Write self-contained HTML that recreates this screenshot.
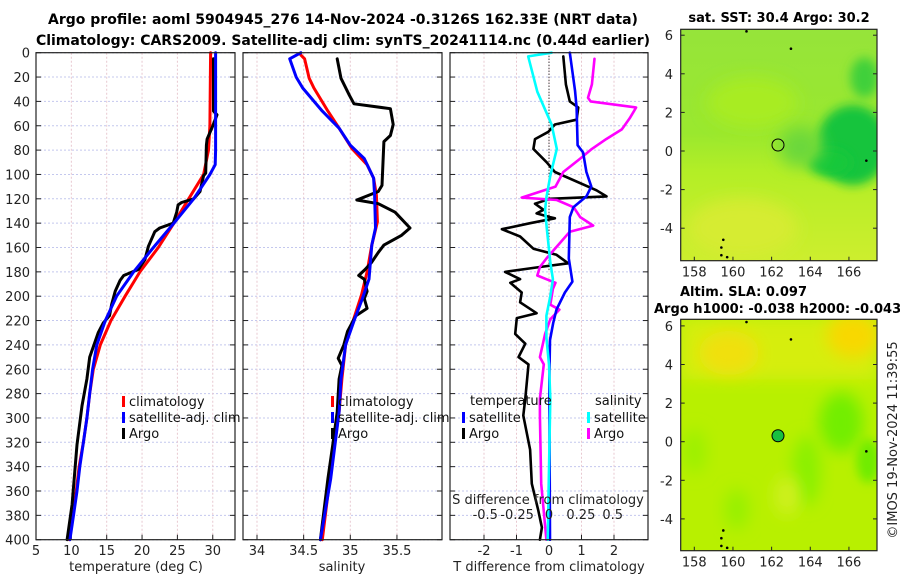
<!DOCTYPE html>
<html><head><meta charset="utf-8"><style>
html,body{margin:0;padding:0;background:#fff;}
svg{display:block;font-family:"DejaVu Sans","Liberation Sans",sans-serif;}
</style></head><body>
<svg id="fig" width="900" height="580" viewBox="0 0 900 580" xmlns="http://www.w3.org/2000/svg">
<defs>
<filter id="blur6" x="-50%" y="-50%" width="200%" height="200%"><feGaussianBlur stdDeviation="8"/></filter>
<filter id="blur4" x="-50%" y="-50%" width="200%" height="200%"><feGaussianBlur stdDeviation="5"/></filter>
<clipPath id="clipTop"><rect x="680.7" y="29.3" width="196.3" height="231.4"/></clipPath>
<clipPath id="clipBot"><rect x="680.7" y="319.3" width="196.3" height="231.4"/></clipPath>
<linearGradient id="topBase" x1="0" y1="0" x2="0" y2="1">
<stop offset="0" stop-color="#96e43a"/><stop offset="0.45" stop-color="#9ae82e"/><stop offset="0.62" stop-color="#b4ee26"/><stop offset="1" stop-color="#cdee2e"/>
</linearGradient>
</defs>
<g id="titles" font-weight="bold" font-size="14" text-anchor="middle" fill="#000">
<text x="343" y="24">Argo profile: aoml 5904945_276 14-Nov-2024 -0.3126S 162.33E (NRT data)</text>
<text x="343" y="45">Climatology: CARS2009. Satellite-adj clim: synTS_20241114.nc (0.44d earlier)</text>
</g>
<g id="p1"></g>
<g id="p2"></g>
<g id="p3"></g>
<g id="maps"></g>
<text x="0" y="0" transform="translate(897,440) rotate(-90)" text-anchor="middle" font-size="13" fill="#222">©IMOS 19-Nov-2024 11:39:55</text>
</svg>
<script>
// ---- Panel 1: temperature ----
const tClimDepth = [0,60,80,100,120,140,160,180,200,220,240,260,280,300,320,340,360,380,400];
const tClimVal = [29.7,29.6,29.4,28.7,26.6,24.5,22.3,19.7,17.6,15.6,14.1,13.1,12.6,12.2,11.7,11.1,10.7,10.2,9.7];
const tSatDepth = [0,80,92,100,120,140,160,180,200,220,240,260,280,300,320,340,360,380,400];
const tSatVal = [30.4,30.4,30.35,29.6,27.3,24.5,21.6,18.8,16.4,14.8,13.6,13.0,12.6,12.2,11.7,11.2,10.8,10.3,9.8];
const tArgoDepth = [5,48,51,60,71,76,99,101,114,120,123,125,131,140,144,147,159,170,178,183,187,196,207,216,222,230,250,268,290,322,371,400];
const tArgoVal = [30.1,30.1,30.6,30.0,29.2,29.1,29.0,28.7,28.2,27.3,25.6,25.1,24.9,24.4,22.5,21.8,20.9,20.4,19.5,17.4,16.9,16.2,15.7,15.4,14.5,13.8,12.6,12.2,11.5,10.8,10.1,9.4];
const tTicks = [5,10,15,20,25,30];
const depthTicks = [0,20,40,60,80,100,120,140,160,180,200,220,240,260,280,300,320,340,360,380,400];
// ---- Panel 2: salinity ----
const sClimDepth = [2,5,21,29,48,62,79,92,103,117,139,158,180,199,218,240,268,295,350,400];
const sClimVal = [34.47,34.51,34.56,34.61,34.76,34.88,35.02,35.18,35.25,35.28,35.29,35.23,35.18,35.12,35.04,34.95,34.91,34.88,34.78,34.70];
const sSatDepth = [0,5,20,29,48,62,76,87,103,117,144,158,186,202,218,240,268,295,350,400];
const sSatVal = [34.47,34.35,34.42,34.49,34.70,34.88,35.00,35.15,35.25,35.26,35.27,35.23,35.20,35.13,35.05,34.95,34.90,34.88,34.79,34.68];
const sArgoDepth = [5,21,35,42,46,59,68,73,109,114,121,124,131,144,150,158,164,172,178,183,186,196,202,210,216,229,240,251,257,268,295,323,350,400];
const sArgoVal = [34.86,34.90,34.99,35.04,35.43,35.46,35.43,35.36,35.34,35.30,35.07,35.30,35.48,35.64,35.55,35.36,35.30,35.23,35.16,35.09,35.15,35.18,35.15,35.18,35.06,34.97,34.93,34.87,34.91,34.88,34.86,34.81,34.76,34.68];
const sTicks = [34,34.5,35,35.5];
const sTickLabels = ["34","34.5","35","35.5"];
// ---- Panel 3: differences ----
const dTSatDepth = [0,31,45,76,82,98,110,118,127,135,169,188,197,211,222,236,270,400];
const dTSatVal = [0.64,0.80,0.85,0.88,1.05,1.15,1.30,1.15,0.75,0.64,0.61,0.72,0.49,0.23,0.13,0.03,0.01,0.03];
const dTArgoDepth = [3,26,40,45,55,59,65,71,79,90,98,113,118,120,124,129,132,135,136,140,145,151,161,166,173,176,180,186,189,197,205,214,218,231,239,250,256,284,298,326,354,376,390,400];
const dTArgoVal = [0.44,0.52,0.64,0.90,0.85,0.18,-0.02,-0.43,-0.48,-0.07,0.18,1.46,1.77,0.03,-0.43,-0.17,-0.38,0.03,0.18,-0.58,-1.45,-0.89,-0.48,0.23,0.59,-0.28,-1.35,-0.89,-1.19,-0.84,-0.89,-0.38,-0.99,-1.04,-0.73,-0.94,-0.63,-0.73,-0.79,-0.58,-0.53,-0.33,-0.22,-0.28];
const dSSatDepth = [0,3,32,59,79,101,119,129,141,172,186,200,216,234,256,284,400];
const dSSatVal = [0.02,-0.16,-0.09,0.02,0.06,0.01,-0.02,-0.03,-0.02,0.01,0.03,0.01,-0.02,-0.02,0.0,0.01,-0.01];
const dSArgoDepth = [5,26,37,40,45,54,63,71,79,87,98,110,119,121,127,135,142,147,158,169,176,183,186,189,194,207,211,219,231,250,256,284,298,354,400];
const dSArgoVal = [0.35,0.33,0.30,0.32,0.67,0.62,0.56,0.44,0.33,0.24,0.11,0.05,-0.21,0.06,0.19,0.24,0.34,0.16,0.07,-0.02,-0.07,-0.09,-0.02,0.05,0.03,0.01,0.08,0.01,-0.03,-0.07,-0.04,-0.07,-0.07,-0.06,-0.02];
const dTTicks = [-2,-1,0,1,2];
const dSTicks = [-0.5,-0.25,0,0.25,0.5];
const dSTickLabels = ["-0.5","-0.25","0","0.25","0.5"];
// ---- Maps ----
const latTicks = [6,4,2,0,-2,-4];
const lonTicks = [158,160,162,164,166];
const argoLon = 162.33, argoLat = 0.31;
const coastLon = [163.0,160.7,166.9,159.5,159.4,159.4,159.7];
const coastLat = [5.3,6.2,-0.5,-4.6,-5.0,-5.4,-5.5];

const NS = "http://www.w3.org/2000/svg";
function mk(parent, tag, attrs, txt){
  const e = document.createElementNS(NS, tag);
  for (const k in attrs) e.setAttribute(k, attrs[k]);
  if (txt !== undefined) e.textContent = txt;
  parent.appendChild(e);
  return e;
}
const TOP = 52.7, BOT = 539.7;
function yD(d){ return TOP + d*(BOT-TOP)/400; }
function xT(v){ return 36 + (v-5)*7.07; }
function xS(v){ return 257 + (v-34)*93.3; }
function xDT(v){ return 549 + v*32.5; }
function xDS(v){ return 549 + v*130; }

function frame(g, x0, x1, vticks, vx){
  depthTicks.forEach(d => {
    const l = mk(g,'line',{x1:x0,x2:x1,y1:yD(d),y2:yD(d),stroke:'#c4c8ee','stroke-width':1,'stroke-dasharray':'2,2'});
    
    
    const a = mk(g,'line',{x1:x0,x2:x0+5,y1:yD(d),y2:yD(d),stroke:'#222','stroke-width':1});
    
    
    const b = mk(g,'line',{x1:x1-5,x2:x1,y1:yD(d),y2:yD(d),stroke:'#222','stroke-width':1});
    
    
  });
  vticks.forEach(v => {
    const l = mk(g,'line',{x1:vx(v),x2:vx(v),y1:TOP,y2:BOT,stroke:'#e8c8d0','stroke-width':1,'stroke-dasharray':'2,2'});
    
    
    const t = mk(g,'line',{x1:vx(v),x2:vx(v),y1:BOT-5,y2:BOT,stroke:'#222','stroke-width':1});
    
    
  });
}
function box(g, x0, x1){
  const r = mk(g,'rect',{x:x0,y:TOP,width:x1-x0,height:BOT-TOP,fill:'none',stroke:'#222','stroke-width':1.2});
  
  
}
function line(g, depths, vals, xf, color, w, name){
  const pts = depths.map((d,i)=> xf(vals[i]).toFixed(1)+','+yD(d).toFixed(1)).join(' ');
  const p = mk(g,'polyline',{points:pts,fill:'none',stroke:color,'stroke-width':w,'stroke-linejoin':'round','stroke-linecap':'round'});
  
  
}
function legendEntry(g, x, y, color, label, name){
  const m = mk(g,'rect',{x:x,y:y-9,width:3,height:11,fill:color});
  
  
  const t = mk(g,'text',{x:x+7,y:y+1,'font-size':13,fill:'#111'},label);
  
  
}

// Panel 1
const p1 = document.getElementById('p1');
frame(p1, 36, 235, tTicks, xT);
line(p1, tClimDepth, tClimVal, xT, '#ff0000', 3, 'climatology-temperature-line');
line(p1, tArgoDepth, tArgoVal, xT, '#000000', 3, 'argo-temperature-line');
line(p1, tSatDepth, tSatVal, xT, '#0000ff', 3, 'satellite-temperature-line');
box(p1, 36, 235);
depthTicks.forEach(d => {
  const t = mk(p1,'text',{x:30,y:yD(d)+5,'text-anchor':'end','font-size':13,fill:'#222'}, String(d));
  
  
});
tTicks.forEach(v => {
  const t = mk(p1,'text',{x:xT(v),y:555,'text-anchor':'middle','font-size':13,fill:'#222'}, String(v));
  
  
});
const xl1 = mk(p1,'text',{x:136,y:571,'text-anchor':'middle','font-size':13,fill:'#222'},'temperature (deg C)');


legendEntry(p1, 122, 405, '#ff0000', 'climatology', 'legend-climatology');
legendEntry(p1, 122, 421, '#0000ff', 'satellite-adj. clim', 'legend-satellite-adj');
legendEntry(p1, 122, 437, '#000000', 'Argo', 'legend-argo');

// Panel 2
const p2 = document.getElementById('p2');
frame(p2, 243, 442, sTicks, xS);
line(p2, sClimDepth, sClimVal, xS, '#ff0000', 3, 'climatology-salinity-line');
line(p2, sArgoDepth, sArgoVal, xS, '#000000', 3, 'argo-salinity-line');
line(p2, sSatDepth, sSatVal, xS, '#0000ff', 3, 'satellite-salinity-line');
box(p2, 243, 442);
sTicks.forEach((v,i) => {
  const t = mk(p2,'text',{x:xS(v),y:555,'text-anchor':'middle','font-size':13,fill:'#222'}, sTickLabels[i]);
  
  
});
const xl2 = mk(p2,'text',{x:342,y:571,'text-anchor':'middle','font-size':13,fill:'#222'},'salinity');


legendEntry(p2, 331, 405, '#ff0000', 'climatology', 'legend-climatology');
legendEntry(p2, 331, 421, '#0000ff', 'satellite-adj. clim', 'legend-satellite-adj');
legendEntry(p2, 331, 437, '#000000', 'Argo', 'legend-argo');

// Panel 3
const p3 = document.getElementById('p3');
frame(p3, 450, 648, dTTicks, xDT);
const zl = mk(p3,'line',{x1:xDT(0),x2:xDT(0),y1:TOP,y2:yD(180),stroke:'#000','stroke-width':1,'stroke-dasharray':'1,2'});


line(p3, dTArgoDepth, dTArgoVal, xDT, '#000000', 2.6, 'argo-temperature-difference-line');
line(p3, dSArgoDepth, dSArgoVal, xDS, '#ff00ff', 2.6, 'argo-salinity-difference-line');
line(p3, dTSatDepth, dTSatVal, xDT, '#0000ff', 2.6, 'satellite-temperature-difference-line');
line(p3, dSSatDepth, dSSatVal, xDS, '#00ffff', 2.6, 'satellite-salinity-difference-line');
box(p3, 450, 648);
dTTicks.forEach(v => {
  const t = mk(p3,'text',{x:xDT(v),y:555,'text-anchor':'middle','font-size':13,fill:'#222'}, String(v));
  
  
});
const xl3 = mk(p3,'text',{x:549,y:571,'text-anchor':'middle','font-size':13,fill:'#222'},'T difference from climatology');


const sl3 = mk(p3,'text',{x:548,y:504,'text-anchor':'middle','font-size':13,fill:'#222'},'S difference from climatology');


dSTicks.forEach((v,i) => {
  const t = mk(p3,'text',{x:xDS(v)*0.5+ (549+v*125)*0.5,y:519,'text-anchor':'middle','font-size':13,fill:'#222'}, dSTickLabels[i]);
  
  
});
const lt = mk(p3,'text',{x:470,y:405,'font-size':13,fill:'#111'},'temperature');


const ls = mk(p3,'text',{x:595,y:405,'font-size':13,fill:'#111'},'salinity');


legendEntry(p3, 462, 421, '#0000ff', 'satellite', 'legend-temperature-satellite');
legendEntry(p3, 462, 437, '#000000', 'Argo', 'legend-temperature-argo');
legendEntry(p3, 587, 421, '#00ffff', 'satellite', 'legend-salinity-satellite');
legendEntry(p3, 587, 437, '#ff00ff', 'Argo', 'legend-salinity-argo');

// Maps
const maps = document.getElementById('maps');
const MX0 = 680.7, MX1 = 877;
function xLon(l){ return 694.3 + (l-158)*19.33; }
function mapFrame(y0, latY0, clip, kind){
  const g = mk(maps,'g',{});
  
  
  const yL = lat => latY0 - lat*19.3;
  const fg = mk(g,'g',{'clip-path':'url(#'+clip+')'});
  
  
  if (kind === 'sst'){
    mk(fg,'rect',{x:MX0,y:y0,width:MX1-MX0,height:231.4,fill:'url(#topBase)'});
    mk(fg,'ellipse',{cx:xLon(160.5),cy:yL(-4),rx:55,ry:30,fill:'#d6ec30',filter:'url(#blur6)'});
    mk(fg,'ellipse',{cx:xLon(161),cy:yL(2.5),rx:45,ry:25,fill:'#a8ec22',filter:'url(#blur6)'});
    mk(fg,'ellipse',{cx:xLon(166.2),cy:yL(0.3),rx:36,ry:40,fill:'#12c43c',filter:'url(#blur4)'});
    mk(fg,'ellipse',{cx:xLon(165),cy:yL(-0.6),rx:22,ry:14,fill:'#18c83a',filter:'url(#blur4)'});
    mk(fg,'ellipse',{cx:xLon(166.8),cy:yL(3.8),rx:14,ry:20,fill:'#40d03a',filter:'url(#blur4)'});
    mk(fg,'ellipse',{cx:xLon(163.5),cy:yL(0.2),rx:22,ry:20,fill:'#6cd83a',filter:'url(#blur6)'});
  } else {
    mk(fg,'rect',{x:MX0,y:y0,width:MX1-MX0,height:231.4,fill:'#b8f000'});
    mk(fg,'rect',{x:MX0,y:y0,width:MX1-MX0,height:60,fill:'#d6ee10',filter:'url(#blur6)'});
    mk(fg,'ellipse',{cx:xLon(159.8),cy:yL(4.6),rx:30,ry:22,fill:'#f0e010',filter:'url(#blur6)'});
    mk(fg,'ellipse',{cx:xLon(166.2),cy:yL(5.5),rx:26,ry:22,fill:'#f8d800',filter:'url(#blur6)'});
    mk(fg,'ellipse',{cx:xLon(165.6),cy:yL(1),rx:22,ry:30,fill:'#72ee00',filter:'url(#blur6)'});
    mk(fg,'ellipse',{cx:xLon(167),cy:yL(-1),rx:12,ry:22,fill:'#70ec00',filter:'url(#blur4)'});
    mk(fg,'ellipse',{cx:xLon(163.8),cy:yL(-1.5),rx:14,ry:35,fill:'#8af000',filter:'url(#blur6)'});
    mk(fg,'ellipse',{cx:xLon(160.2),cy:yL(-3.5),rx:12,ry:20,fill:'#96f000',filter:'url(#blur6)'});
    mk(fg,'ellipse',{cx:xLon(158),cy:yL(-0.5),rx:12,ry:22,fill:'#9cf000',filter:'url(#blur6)'});
    mk(fg,'ellipse',{cx:xLon(162.8),cy:yL(-2.8),rx:12,ry:20,fill:'#d0f020',filter:'url(#blur6)'});
  }
  coastLon.forEach((lo,i) => {
    const c = mk(fg,'circle',{cx:xLon(lo),cy:yL(coastLat[i]),r:1.3,fill:'#000'});
    
    
  });
  const mark = mk(g,'circle',{cx:xLon(argoLon),cy:yL(argoLat),r:6,fill: kind==='sst' ? 'none' : '#18c040',stroke:'#000','stroke-width':1});
  
  
  const r = mk(g,'rect',{x:MX0,y:y0,width:MX1-MX0,height:231.4,fill:'none',stroke:'#222','stroke-width':1.2});
  
  
  latTicks.forEach(v => {
    const t = mk(g,'text',{x:673,y:yL(v)+5,'text-anchor':'end','font-size':13,fill:'#222'}, String(v));
    
    
    mk(g,'line',{x1:MX0,x2:MX0+4,y1:yL(v),y2:yL(v),stroke:'#222'});
    mk(g,'line',{x1:MX1-4,x2:MX1,y1:yL(v),y2:yL(v),stroke:'#222'});
  });
  lonTicks.forEach(v => {
    const t = mk(g,'text',{x:xLon(v),y:y0+231.4+16,'text-anchor':'middle','font-size':13,fill:'#222'}, String(v));
    
    
    mk(g,'line',{x1:xLon(v),x2:xLon(v),y1:y0+231.4-4,y2:y0+231.4,stroke:'#222'});
  });
}
mapFrame(29.3, 151, 'clipTop', 'sst');
mapFrame(319.3, 441.7, 'clipBot', 'sla');
const mt1 = mk(maps,'text',{x:779,y:22,'text-anchor':'middle','font-size':13,'font-weight':'bold',fill:'#000'},'sat. SST: 30.4 Argo: 30.2');


const mt2 = mk(maps,'text',{x:680,y:296,'font-size':13,'font-weight':'bold',fill:'#000'},'Altim. SLA: 0.097');


const mt3 = mk(maps,'text',{x:654,y:313,'font-size':13,'font-weight':'bold',fill:'#000'},'Argo h1000: -0.038 h2000: -0.043');


</script>
</body></html>
